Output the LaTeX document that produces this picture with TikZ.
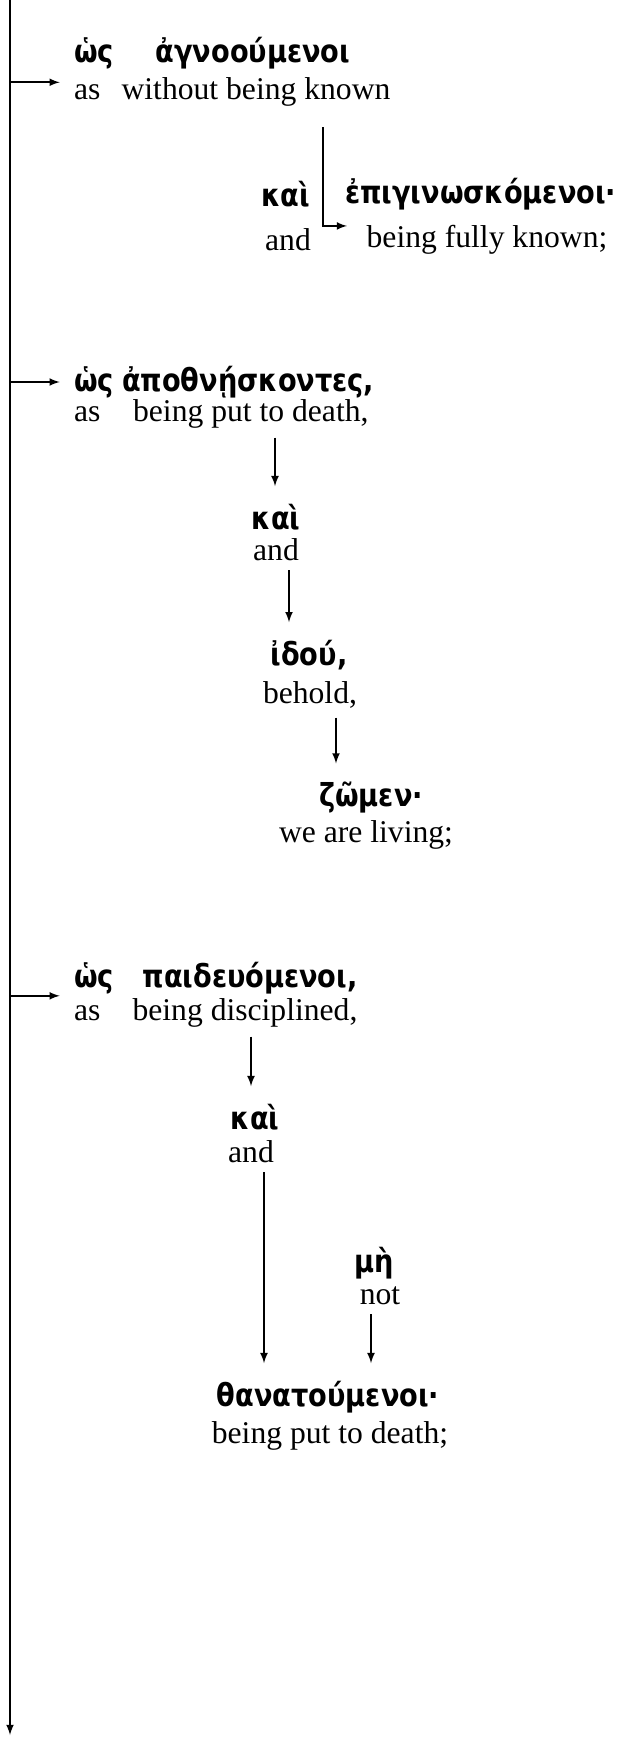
\documentclass[tikz,border=0pt]{standalone}
\usepackage{fontspec}
\setmainfont{Liberation Serif}
\newfontfamily\greekfont[FakeStretch=0.86]{DejaVu Sans}
\usepackage{tikz}

\begin{document}
\begin{tikzpicture}[x=0.02cm, y=-0.02cm, >=latex,
    gk/.style={font=\greekfont\bfseries\fontsize{18}{21}\selectfont, inner sep=1pt},
    en/.style={font=\fontsize{18}{21}\selectfont, inner sep=1pt},
    arr/.style={->, line width=1pt},
    side/.style={arr, shorten >=7pt},
    down/.style={arr, shorten <=4pt, shorten >=9pt}]
\useasboundingbox (0,0) rectangle (627,1737);
% main line
    \coordinate (top) at (10,0);
    \coordinate (bot) at (10,1735);
    \draw[arr] (top) -- (bot);
    % first line
    \node[gk, anchor=west] (ws1) at (72,53) {ὡς};
    \node[en, anchor=west] (as1) at (72,92) {as};
    \node[gk] (agn) at (253,53) {ἀγνοούμενοι};
    \node[en] (wbk) at (256,92) {without being known};
    \node[gk, anchor=east] (kai1) at (312,194) {καὶ};
    \node[en] (and1) at (288,240) {and};
    \node[gk, anchor=west] (epi) at (343,194) {ἐπιγινωσκόμενοι·};
    \node[en] (bfk) at (487,240) {being fully known;};
    \draw[side] (as1.north west -| top) -- (as1.north west);
    \coordinate (c1) at (323,127);
    \draw[arr, shorten >=10pt] (c1) |- ([yshift=8pt]bfk.west);
    % second line
    \node[gk, anchor=west] (ws2) at (72,382) {ὡς};
    \node[en, anchor=west] (as2) at (72,414) {as};
    \node[gk, anchor=west] (apo) at (120,382) {ἀποθνῄσκοντες,};
    \node[en, anchor=west] (bpd) at (131,414) {being put to death,};
    \node[gk] (kai2) at (276,517) {καὶ};
    \node[en] (and2) at (276,550) {and};
    \node[gk] (idou) at (309,655) {ἰδού,};
    \node[en] (beh) at (310,695) {behold,};
    \node[gk] (zom) at (371,797) {ζῶμεν·};
    \node[en] (liv) at (366,835) {we are living;};
    \draw[side] (ws2.west -| top) -- (ws2.west);
    \coordinate (d1) at (275,0);
    \coordinate (d2) at (289,0);
    \coordinate (d3) at (336,0);
    \draw[down] (bpd.south -| d1) -- (kai2.north -| d1);
    \draw[down] (and2.south -| d2) -- (idou.north -| d2);
    \draw[down] (beh.south -| d3) -- (zom.north -| d3);
    % third line
    \node[gk, anchor=west] (ws3) at (72,978) {ὡς};
    \node[en, anchor=west] (as3) at (72,1013) {as};
    \node[gk] (paid) at (250,978) {παιδευόμενοι,};
    \node[en] (bdis) at (245,1013) {being disciplined,};
    \node[gk] (kai3) at (255,1117) {καὶ};
    \node[en] (and3) at (251,1152) {and};
    \node[gk] (me) at (374,1263) {μὴ};
    \node[en] (not) at (380,1296) {not};
    \node[gk] (than) at (328,1397) {θανατούμενοι·};
    \node[en] (bptd) at (330,1436) {being put to death;};
    \draw[side] (ws3.south west -| top) -- (ws3.south west);
    \coordinate (e1) at (251,0);
    \coordinate (e2) at (264,0);
    \coordinate (e3) at (371,0);
    \draw[down] (bdis.south -| e1) -- (kai3.north -| e1);
    \draw[down] (and3.south -| e2) -- (than.north -| e2);
    \draw[down] (not.south -| e3) -- (than.north -| e3);
\end{tikzpicture}
\end{document}
